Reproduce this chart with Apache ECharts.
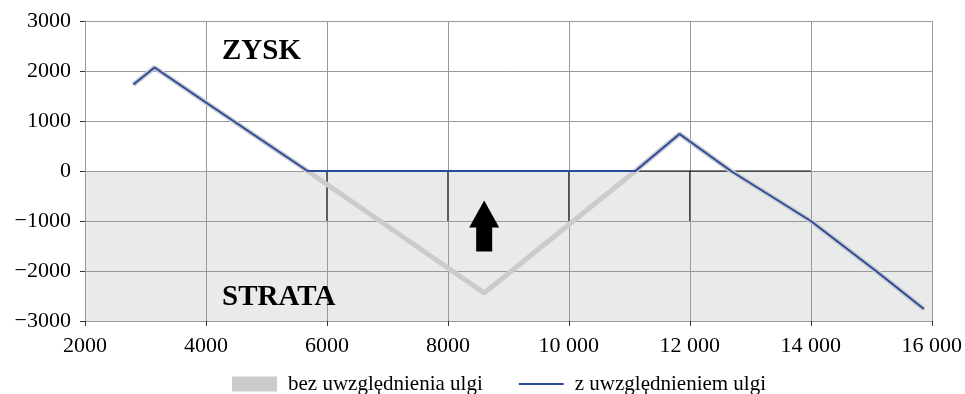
<!DOCTYPE html>
<html>
<head>
<meta charset="utf-8">
<script src="https://cdn.jsdelivr.net/npm/echarts@6/dist/echarts.min.js"></script>
<style>
html,body{margin:0;padding:0;background:#fff;}
#chart{width:965px;height:394px;}
</style>
</head>
<body>
<div id="chart"></div>
<script>
// ---- data ----
var seriesNames = ['bez uwzględnienia ulgi', 'z uwzględnieniem ulgi'];
var incomeGray = [2800, 3150, 4000, 5680, 8600, 11100, 11830, 12680, 14000, 15100, 15870];
var profitGray = [1730, 2070, 1370, 0, -2440, 0, 740, 0, -1000, -2020, -2760];
var incomeBlue = [2800, 3150, 4000, 5680, 11100, 11830, 12680, 14000, 15100, 15870];
var profitBlue = [1730, 2070, 1370, 0, 0, 740, 0, -1000, -2020, -2760];
var xTicks = [2000, 4000, 6000, 8000, 10000, 12000, 14000, 16000];
var xTickLabels = ['2000', '4000', '6000', '8000', '10 000', '12 000', '14 000', '16 000'];
var yTicks = [-3000, -2000, -1000, 0, 1000, 2000, 3000];
var yTickLabels = ['\u22123000', '\u22122000', '\u22121000', '0', '1000', '2000', '3000'];
var blackVerticalX = [6000, 8000, 10000, 12000];
var blackVerticalY = [0, -1000];
var blackZeroLineX = [6000, 14000];
var arrowPoint = [8600, -1100];
var lossBand = [0, -3000];

function pairs(xs, ys) { return xs.map(function (x, i) { return [x, ys[i]]; }); }

var FONT = 'Liberation Serif';
var series = [
  {
    name: seriesNames[0], type: 'line', data: pairs(incomeGray, profitGray),
    symbol: 'none', z: 2,
    lineStyle: { color: '#cbcbcb', width: 5 }, itemStyle: { color: '#cbcbcb' },
    markArea: { silent: true, itemStyle: { color: '#e9eaea' },
      data: [[{ yAxis: lossBand[0] }, { yAxis: lossBand[1] }]] }
  },
  {
    name: seriesNames[1], type: 'line', data: pairs(incomeBlue, profitBlue),
    symbol: 'none', z: 3,
    lineStyle: { color: '#2b4a9b', width: 2 }, itemStyle: { color: '#2b4a9b' }
  },
  {
    name: 'arrow', type: 'scatter', data: [arrowPoint], z: 4,
    symbol: 'path://M15,0 L30,27 L23,27 L23,51 L7,51 L7,27 L0,27 Z',
    symbolSize: [30, 51], itemStyle: { color: '#000', opacity: 1 }, silent: true
  },
  {
    name: 'zeroBlack', type: 'line', z: 1.8, symbol: 'none', silent: true,
    data: blackZeroLineX.map(function (x) { return [x, 0]; }),
    lineStyle: { color: '#000', width: 1 }
  }
];
blackVerticalX.forEach(function (x, i) {
  series.push({
    name: 'vBlack' + i, type: 'line', z: 1.8, symbol: 'none', silent: true,
    data: blackVerticalY.map(function (y) { return [x, y]; }),
    lineStyle: { color: '#000', width: 1 }
  });
});

var chart = echarts.init(document.getElementById('chart'), null, { renderer: 'canvas' });
chart.setOption({
  animation: false,
  backgroundColor: '#ffffff',
  textStyle: { fontFamily: FONT },
  grid: { left: 85, right: 30, top: 21, bottom: 73, containLabel: false },
  xAxis: {
    type: 'value', min: 2000, max: 16000, interval: 2000, z: 1.5,
    axisLine: { show: true, onZero: false, lineStyle: { color: '#999', width: 1 } },
    axisTick: { show: true, length: 5, lineStyle: { color: '#333' } },
    splitLine: { show: true, lineStyle: { color: '#999', width: 1 } },
    axisLabel: { margin: 14, color: '#000', fontFamily: FONT, fontSize: 22,
      formatter: function (v) { var i = xTicks.indexOf(v); return i >= 0 ? xTickLabels[i] : ''; } }
  },
  yAxis: {
    type: 'value', min: -3000, max: 3000, interval: 1000, z: 1.5,
    axisLine: { show: true, onZero: false, lineStyle: { color: '#999', width: 1 } },
    axisTick: { show: true, length: 5, lineStyle: { color: '#333' } },
    splitLine: { show: true, lineStyle: { color: '#999', width: 1 } },
    axisLabel: { margin: 14, color: '#000', fontFamily: FONT, fontSize: 22,
      formatter: function (v) { var i = yTicks.indexOf(v); return i >= 0 ? yTickLabels[i] : ''; } }
  },
  legend: {
    left: 232, top: 373.5, padding: 0, itemGap: 36, itemWidth: 45, itemHeight: 15,
    selectedMode: false,
    textStyle: { fontFamily: FONT, fontSize: 21, color: '#000', padding: [0, 0, 0, 6] },
    data: [
      { name: seriesNames[0], icon: 'rect' },
      { name: seriesNames[1], icon: 'path://M0,0 L45,0 L45,2 L0,2 Z' }
    ]
  },
  graphic: [
    { type: 'text', left: 222, top: 37, z: 10, silent: true,
      style: { text: 'ZYSK', font: 'bold 29px "Liberation Serif"', fill: '#000' } },
    { type: 'text', left: 222, top: 283, z: 10, silent: true,
      style: { text: 'STRATA', font: 'bold 29px "Liberation Serif"', fill: '#000' } }
  ],
  series: series
});
</script>
</body>
</html>
